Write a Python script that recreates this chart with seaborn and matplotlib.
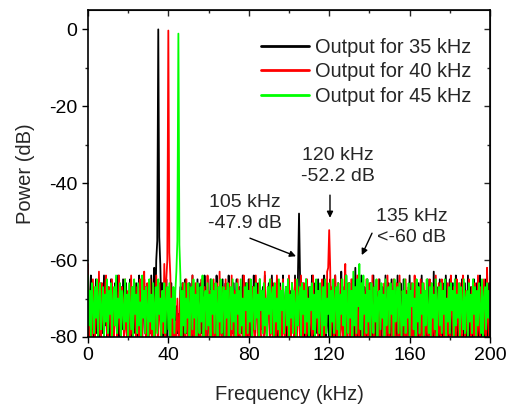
import numpy as np
import pandas as pd
import matplotlib
matplotlib.use("Agg")
import matplotlib.pyplot as plt
import seaborn as sns

# Frequency grid (kHz), 0.5 kHz resolution
freq = np.arange(0, 200.01, 0.5)

labels = ["Output for 35 kHz", "Output for 40 kHz", "Output for 45 kHz"]
colors = ["#000000", "#ff0000", "#00ff00"]

power_35 = [
    -66, -80, -70, -64, -78, -67, -80, -73, -65, -79, -68, -76, -80, -66, -74, -79, -64, -77, -70, -80,
    -67, -75, -80, -65, -78, -69, -80, -66, -73, -79, -64, -80, -71, -67, -78, -65, -80, -72, -66, -79,
    -69, -80, -65, -76, -80, -67, -74, -79, -66, -80, -70, -64, -78, -68, -80, -73, -65, -79, -67, -80,
    -72, -66, -79, -64, -80, -69, -62, -75, -60, -55, 0.0, -54, -61, -72, -66, -80, -69, -76, -65, -80,
    -70, -67, -79, -66, -80, -73, -77, -80, -72, -79, -74, -80, -67, -78, -66, -80, -71, -65, -79, -68,
    -80, -66, -74, -79, -64, -80, -70, -67, -78, -65, -80, -72, -66, -79, -68, -80, -64, -75, -80, -67,
    -73, -79, -65, -80, -69, -66, -78, -80, -64, -76, -80, -67, -72, -79, -65, -80, -70, -66, -78, -80,
    -64, -75, -80, -68, -79, -66, -80, -71, -65, -78, -80, -67, -74, -79, -64, -80, -69, -66, -80, -73,
    -65, -79, -80, -67, -76, -64, -80, -70, -66, -79, -80, -65, -73, -78, -67, -80, -64, -77, -80, -69,
    -66, -80, -72, -64, -79, -80, -67, -75, -65, -80, -70, -66, -79, -80, -64, -74, -78, -67, -80, -65,
    -79, -68, -80, -66, -73, -80, -64, -77, -80, -63, -47.9, -64, -80, -72, -66, -79, -80, -65, -76, -80,
    -67, -80, -70, -64, -78, -80, -66, -74, -79, -65, -80, -69, -67, -80, -73, -64, -79, -80, -66, -77,
    -80, -65, -72, -80, -67, -79, -64, -80, -70, -66, -78, -80, -63, -75, -80, -67, -79, -64, -80, -71,
    -66, -80, -74, -65, -79, -80, -62, -77, -80, -66, -73, -80, -64, -79, -80, -67, -70, -80, -65, -78,
    -80, -66, -75, -80, -64, -79, -80, -68, -72, -80, -65, -78, -80, -67, -74, -80, -64, -79, -80, -66,
    -73, -80, -65, -78, -80, -67, -76, -80, -64, -79, -80, -66, -71, -80, -65, -78, -80, -68, -74, -80,
    -64, -79, -80, -67, -75, -80, -65, -78, -80, -66, -73, -80, -64, -79, -80, -68, -70, -80, -65, -77,
    -80, -66, -74, -80, -63, -79, -80, -67, -72, -80, -65, -78, -80, -66, -75, -80, -64, -79, -80, -69,
    -65, -80, -73, -66, -79, -80, -64, -76, -80, -67, -78, -80, -65, -74, -80, -66, -79, -80, -64, -72,
    -80, -67, -78, -80, -65, -75, -80, -66, -79, -80, -64, -73, -80, -67, -78, -80, -65, -76, -80, -66,
    -79,
]

power_40 = [
    -61, -80, -68, -74, -80, -65, -78, -80, -67, -72, -80, -63, -79, -80, -66, -75, -80, -68, -64, -79,
    -80, -67, -73, -80, -65, -78, -80, -69, -66, -80, -74, -64, -79, -80, -67, -71, -80, -65, -78, -80,
    -68, -75, -80, -64, -79, -80, -66, -72, -80, -67, -78, -80, -65, -74, -80, -68, -63, -79, -80, -66,
    -76, -80, -65, -79, -80, -67, -73, -80, -64, -78, -80, -66, -75, -80, -68, -79, -61, -80, -65, -60,
    -0.3, -58, -64, -75, -80, -72, -80, -76, -80, -70, -78, -80, -68, -79, -80, -66, -74, -80, -65, -78,
    -80, -67, -72, -80, -64, -79, -80, -66, -75, -80, -68, -78, -80, -65, -73, -80, -67, -79, -80, -64,
    -76, -80, -68, -71, -80, -65, -79, -80, -66, -74, -80, -63, -78, -80, -67, -72, -80, -65, -79, -80,
    -66, -75, -80, -64, -78, -80, -68, -73, -80, -65, -79, -80, -67, -76, -80, -64, -71, -80, -66, -79,
    -80, -65, -74, -80, -67, -78, -80, -64, -72, -80, -66, -79, -80, -68, -75, -80, -63, -78, -80, -67,
    -73, -80, -65, -79, -80, -66, -76, -80, -64, -78, -80, -67, -71, -80, -65, -79, -80, -68, -74, -80,
    -64, -78, -80, -66, -73, -80, -65, -79, -80, -67, -75, -80, -64, -78, -80, -66, -72, -80, -65, -79,
    -80, -67, -76, -80, -64, -79, -80, -66, -73, -80, -68, -78, -80, -65, -74, -80, -67, -79, -63, -62,
    -52.2, -62, -80, -67, -75, -80, -64, -79, -80, -66, -72, -80, -65, -78, -80, -68, -61, -79, -80, -66,
    -74, -80, -65, -78, -80, -67, -73, -80, -64, -79, -80, -66, -76, -80, -68, -71, -80, -65, -79, -80,
    -66, -75, -80, -64, -78, -80, -67, -72, -80, -65, -79, -80, -68, -74, -80, -66, -77, -80, -64, -79,
    -80, -67, -73, -80, -65, -78, -80, -66, -75, -80, -64, -79, -80, -68, -72, -80, -65, -78, -80, -67,
    -74, -80, -66, -79, -80, -64, -76, -80, -67, -71, -80, -65, -78, -80, -66, -73, -80, -68, -79, -80,
    -65, -75, -80, -67, -78, -80, -64, -72, -80, -66, -79, -80, -65, -74, -80, -68, -77, -80, -66, -79,
    -80, -64, -73, -80, -67, -78, -80, -65, -76, -80, -66, -79, -80, -64, -71, -80, -68, -78, -80, -65,
    -74, -80, -67, -79, -80, -66, -75, -80, -64, -78, -80, -67, -72, -80, -65, -79, -80, -62, -76, -80,
    -66,
]

power_45 = [
    -64, -77, -68, -80, -66, -72, -79, -67, -75, -65, -80, -70, -66, -78, -73, -67, -80, -69, -76, -65,
    -79, -68, -74, -66, -80, -71, -67, -77, -64, -79, -70, -75, -66, -80, -68, -73, -78, -65, -76, -69,
    -80, -66, -72, -78, -67, -80, -65, -74, -69, -79, -66, -77, -71, -80, -64, -75, -68, -79, -67, -73,
    -80, -65, -76, -69, -78, -66, -80, -72, -67, -79, -65, -74, -70, -80, -68, -76, -66, -79, -71, -67,
    -78, -66, -80, -70, -75, -67, -79, -68, -63, -55, -1.1, -56, -64, -80, -68, -77, -66, -79, -70, -75,
    -66, -80, -72, -67, -78, -65, -75, -69, -80, -66, -73, -79, -67, -76, -64, -80, -70, -68, -78, -66,
    -77, -69, -80, -65, -74, -68, -79, -66, -72, -80, -67, -76, -65, -79, -70, -67, -80, -68, -75, -66,
    -80, -71, -67, -78, -65, -76, -69, -80, -66, -74, -68, -79, -65, -77, -70, -80, -67, -73, -66, -79,
    -68, -76, -65, -80, -71, -67, -78, -66, -75, -69, -80, -65, -73, -68, -79, -66, -77, -70, -80, -67,
    -74, -65, -79, -69, -67, -80, -66, -76, -70, -78, -65, -80, -68, -73, -66, -79, -71, -67, -77, -65,
    -80, -69, -75, -66, -79, -68, -72, -80, -65, -77, -70, -67, -80, -66, -74, -68, -79, -65, -76, -70,
    -80, -67, -73, -66, -78, -69, -80, -65, -75, -68, -79, -66, -71, -80, -67, -77, -65, -79, -70, -74,
    -66, -80, -68, -76, -65, -79, -71, -67, -78, -66, -80, -69, -74, -65, -77, -68, -80, -64, -73, -79,
    -66, -75, -68, -80, -63, -77, -67, -79, -65, -72, -61, -78, -66, -80, -64, -74, -69, -79, -65, -76,
    -68, -80, -66, -73, -79, -67, -76, -65, -80, -70, -68, -78, -66, -75, -69, -80, -65, -77, -71, -67,
    -79, -66, -74, -68, -80, -65, -76, -70, -67, -79, -66, -73, -80, -68, -77, -65, -79, -69, -75, -66,
    -80, -68, -72, -66, -78, -70, -80, -65, -76, -67, -79, -69, -74, -66, -80, -68, -77, -65, -73, -79,
    -67, -80, -66, -75, -69, -78, -65, -80, -71, -67, -77, -66, -79, -68, -74, -65, -80, -70, -76, -67,
    -79, -66, -73, -68, -80, -65, -77, -69, -75, -66, -80, -67, -72, -78, -65, -79, -70, -68, -80, -66,
    -76, -69, -79, -65, -74, -67, -80, -68, -77, -66, -73, -79, -65, -80, -70, -67, -78, -66, -75, -68,
    -79,
]

series = [power_35, power_40, power_45]

sns.set_style("ticks")
plt.rcParams["font.family"] = ["Liberation Sans", "DejaVu Sans"]
plt.rcParams["axes.unicode_minus"] = False

fig = plt.figure(figsize=(5.11, 4.07), dpi=100)
ax = fig.add_axes([0.172, 0.172, 0.787, 0.803])

for lab, col, vals in zip(labels, colors, series):
    df = pd.DataFrame({"f": freq[:len(vals)], "p": vals})
    sns.lineplot(data=df, x="f", y="p", ax=ax, color=col, lw=1.3,
                 label=lab, estimator=None, sort=False)

ax.set_xlim(0, 200)
ax.set_ylim(-80, 5)
ax.set_xticks([0, 40, 80, 120, 160, 200])
ax.set_xticks([20, 60, 100, 140, 180], minor=True)
ax.set_yticks([0, -20, -40, -60, -80])
ax.set_yticks([-10, -30, -50, -70], minor=True)

ax.tick_params(axis="both", which="major", direction="out", length=4.5, width=1,
               labelsize=14, colors="black", pad=3)
ax.tick_params(axis="both", which="minor", direction="out", length=2.5, width=1)
for s in ax.spines.values():
    s.set_linewidth(1.2)
    s.set_color("black")

# mirrored inward ticks on top and right
axt = ax.secondary_xaxis("top")
axt.set_xticks([0, 40, 80, 120, 160, 200])
axt.set_xticks([20, 60, 100, 140, 180], minor=True)
axt.tick_params(which="major", direction="in", length=4.5, width=1)
axt.tick_params(which="minor", direction="in", length=2.5, width=1)
axt.set_xticklabels([])
axr = ax.secondary_yaxis("right")
axr.set_yticks([0, -20, -40, -60, -80])
axr.set_yticks([-10, -30, -50, -70], minor=True)
axr.tick_params(which="major", direction="in", length=4.5, width=1)
axr.tick_params(which="minor", direction="in", length=2.5, width=1)
axr.set_yticklabels([])

ax.set_xlabel("Frequency (kHz)", fontsize=14.5, labelpad=15)
ax.set_ylabel("Power (dB)", fontsize=14.5, labelpad=10)

leg = ax.legend(loc="upper right", frameon=False, fontsize=14.4,
                handlelength=2.4, handletextpad=0.3, labelspacing=0.28,
                borderaxespad=0.0, bbox_to_anchor=(0.973, 0.94))
for h in leg.get_lines():
    h.set_linewidth(2)

arrow = dict(arrowstyle="-|>", color="black", lw=1, mutation_scale=9,
             shrinkA=0, shrinkB=0)
ax.text(78.1, -47.7, "105 kHz\n-47.9 dB", ha="center", va="center",
        fontsize=14, linespacing=1.3)
ax.annotate("", xy=(103.5, -59.0), xytext=(80.6, -54.3), arrowprops=arrow)
ax.text(124.4, -35.5, "120 kHz\n-52.2 dB", ha="center", va="center",
        fontsize=14, linespacing=1.3)
ax.annotate("", xy=(120.4, -49.0), xytext=(120.4, -43.1), arrowprops=arrow)
ax.text(161.0, -51.3, "135 kHz\n<-60 dB", ha="center", va="center",
        fontsize=14, linespacing=1.3)
ax.annotate("", xy=(136.2, -58.7), xytext=(141.3, -53.0), arrowprops=arrow)

fig.savefig("out.png", dpi=100)
